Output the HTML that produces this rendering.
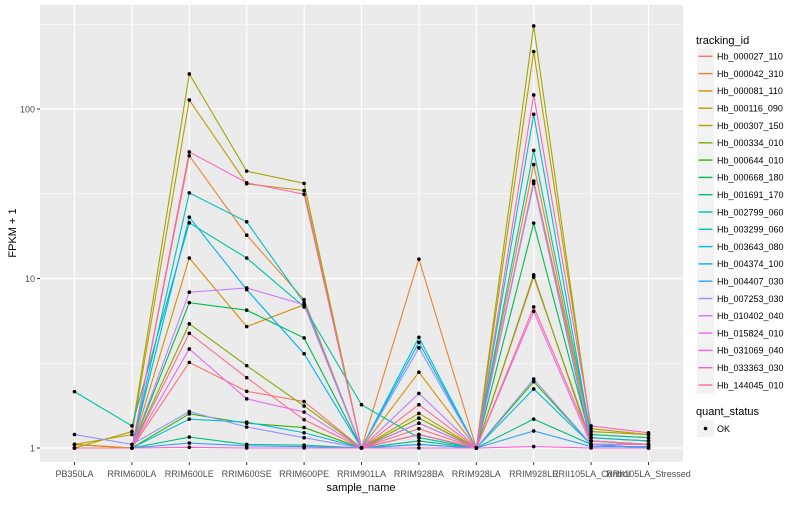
<!DOCTYPE html>
<html><head><meta charset="utf-8"><style>
body{margin:0;background:#fff;font-family:"Liberation Sans",sans-serif;}
svg text{font-family:"Liberation Sans",sans-serif;}
</style></head><body>
<svg id="chart" width="800" height="500" xmlns="http://www.w3.org/2000/svg">
<rect x="0" y="0" width="800" height="500" fill="#fff"/>
<rect x="40" y="5" width="643" height="457" fill="#EBEBEB"/>
<g id="grid"></g>
<g id="lines"></g>
<g id="pts"></g>
<g id="axes"></g>
<g id="legend"></g>
</svg>
<script>
const samples=["PB350LA","RRIM600LA","RRIM600LE","RRIM600SE","RRIM600PE","RRIM901LA","RRIM928BA","RRIM928LA","RRIM928LE","RRII105LA_Control","RRII105LA_Stressed"];
const seriesNames=["Hb_000027_110","Hb_000042_310","Hb_000081_110","Hb_000116_090","Hb_000307_150","Hb_000334_010","Hb_000644_010","Hb_000668_180","Hb_001691_170","Hb_002799_060","Hb_003299_060","Hb_003643_080","Hb_004374_100","Hb_004407_030","Hb_007253_030","Hb_010402_040","Hb_015824_010","Hb_031069_040","Hb_033363_030","Hb_144045_010"];
const seriesColors=["#F8766D","#EA8331","#D89000","#C09B00","#A3A500","#7CAE00","#39B600","#00BB4E","#00BF7D","#00C1A3","#00BFC4","#00BAE0","#00B0F6","#35A2FF","#9590FF","#C77CFF","#E76BF3","#FA62DB","#FF62BC","#FF6C91"];
const values=[
[1.05,1.0,3.2,2.16,1.88,1.0,1.3,1.0,10.2,1.1,1.05],
[1.05,1.0,53,18,7.5,1.0,13,1.0,47,1.15,1.1],
[1.05,1.0,13.2,5.2,7.0,1.0,2.8,1.0,37.6,1.2,1.15],
[1.05,1.2,113,36.2,33,1.0,1.6,1.0,218,1.3,1.2],
[1.0,1.25,161,43,36.4,1.0,1.5,1.0,309,1.25,1.2],
[1.0,1.0,5.4,3.06,1.77,1.0,1.5,1.0,10.5,1.05,1.05],
[1.0,1.0,1.59,1.4,1.32,1.0,1.2,1.0,2.46,1.05,1.0],
[1.0,1.0,7.2,6.5,4.46,1.0,1.4,1.0,21.2,1.1,1.05],
[1.0,1.0,1.16,1.05,1.04,1.0,1.1,1.0,1.48,1.05,1.05],
[2.15,1.35,21.3,13.2,6.8,1.8,1.15,1.0,57,1.2,1.15],
[1.0,1.0,32,21.6,7.2,1.0,4.5,1.0,93,1.15,1.1],
[1.0,1.0,1.48,1.42,1.23,1.0,1.05,1.0,2.23,1.05,1.0],
[1.0,1.0,23,8.6,3.6,1.0,4.2,1.0,36.4,1.05,1.05],
[1.0,1.0,1.07,1.03,1.02,1.0,1.05,1.0,1.26,1.02,1.02],
[1.2,1.05,1.64,1.33,1.15,1.0,3.9,1.0,2.55,1.05,1.05],
[1.0,1.0,8.3,8.8,7.0,1.0,2.1,1.0,36.4,1.1,1.05],
[1.0,1.0,3.84,1.95,1.63,1.0,1.4,1.0,6.4,1.05,1.05],
[1.0,1.0,1.01,1.0,1.0,1.0,1.0,1.0,1.02,1.0,1.0],
[1.0,1.0,55.8,36.7,31.4,1.0,1.2,1.0,121,1.35,1.23],
[1.0,1.0,4.75,2.6,1.47,1.0,1.8,1.0,6.8,1.1,1.05]
];
const yTicks=[1,10,100];
const yMinor=[Math.sqrt(10),Math.sqrt(1000),Math.sqrt(100000)];

const NS="http://www.w3.org/2000/svg";
function xs(i){return 74.5+i*57.4;}
function ys(v){return 448-169.5*Math.log10(v);}
function mk(tag,attrs,parent){const e=document.createElementNS(NS,tag);for(const k in attrs)e.setAttribute(k,attrs[k]);parent.appendChild(e);return e;}
const grid=document.getElementById('grid'),lines=document.getElementById('lines'),pts=document.getElementById('pts'),axes=document.getElementById('axes'),legend=document.getElementById('legend');

yMinor.forEach(v=>{const y=ys(v);if(y<5)return;const l=mk('line',{x1:40,x2:683,y1:y,y2:y,stroke:'#fff','stroke-width':0.6},grid);

});
yTicks.forEach(v=>{const y=ys(v);const l=mk('line',{x1:40,x2:683,y1:y,y2:y,stroke:'#fff','stroke-width':1.2},grid);


const t=mk('line',{x1:37,x2:40,y1:y,y2:y,stroke:'#333','stroke-width':1},axes);


const tx=mk('text',{x:35,y:y+3.5,'text-anchor':'end','font-size':9,fill:'#4D4D4D'},axes);tx.textContent=v;

});
samples.forEach((s,i)=>{const x=xs(i);const l=mk('line',{x1:x,x2:x,y1:5,y2:462,stroke:'#fff','stroke-width':1.2},grid);


const t=mk('line',{x1:x,x2:x,y1:462,y2:465,stroke:'#333','stroke-width':1},axes);


const tx=mk('text',{x:x,y:477,'text-anchor':'middle','font-size':9,fill:'#4D4D4D'},axes);tx.textContent=s;

});

values.forEach((row,si)=>{
const p=mk('polyline',{points:row.map((v,i)=>xs(i)+','+ys(v)).join(' '),fill:'none',stroke:seriesColors[si],'stroke-width':1.1},lines);


row.forEach((v,i)=>{const r=mk('circle',{cx:xs(i),cy:ys(v),r:1.8,fill:'#000'},pts);

});
});

let t=mk('text',{x:361,y:491,'text-anchor':'middle','font-size':11,fill:'#000'},axes);t.textContent='sample_name';


t=mk('text',{x:16,y:233,'text-anchor':'middle','font-size':11,fill:'#000',transform:'rotate(-90 16 233)'},axes);t.textContent='FPKM + 1';



t=mk('text',{x:696,y:44,'font-size':11,fill:'#000'},legend);t.textContent='tracking_id';


seriesNames.forEach((n,i)=>{const cy=56.3+i*17.3;
const g=mk('g',{},legend);


mk('rect',{x:697,y:cy-8.5,width:17,height:17,fill:'#F2F2F2'},g);
mk('line',{x1:698.5,x2:712.5,y1:cy,y2:cy,stroke:seriesColors[i],'stroke-width':1.4},g);
const tx=mk('text',{x:717,y:cy+3.3,'font-size':9,fill:'#000'},g);tx.textContent=n;});
t=mk('text',{x:696,y:415,'font-size':11,fill:'#000'},legend);t.textContent='quant_status';


const g2=mk('g',{},legend);


mk('rect',{x:697,y:420,width:17,height:17,fill:'#F2F2F2'},g2);
mk('circle',{cx:705.5,cy:428.5,r:1.8,fill:'#000'},g2);
const okt=mk('text',{x:717,y:432,'font-size':9,fill:'#000'},g2);okt.textContent='OK';
</script>
</body></html>
